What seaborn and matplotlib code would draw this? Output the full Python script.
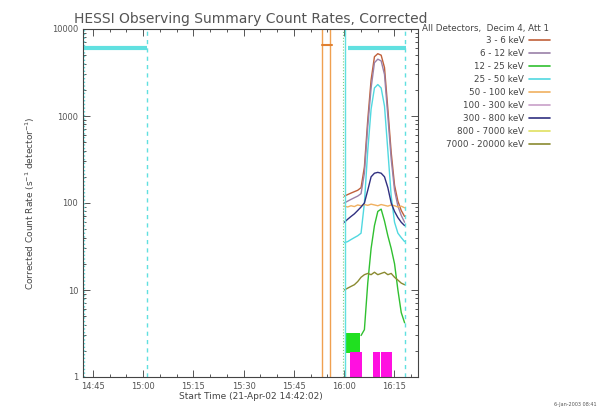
import pandas as pd
import numpy as np
import seaborn as sns
import matplotlib.pyplot as plt
import matplotlib.dates as mdates
from matplotlib.lines import Line2D

# start of the plot window
start = pd.Timestamp("2002-04-21 14:42:02")

# minutes after start for the flare curves
minutes = [78, 79, 80, 81, 82, 83, 84, 85, 86, 87, 88, 89, 90, 91, 92, 93, 94, 95, 96]

bands = ["3 - 6 keV", "6 - 12 keV", "12 - 25 keV", "25 - 50 keV", "50 - 100 keV",
         "100 - 300 keV", "300 - 800 keV", "800 - 7000 keV", "7000 - 20000 keV"]
band_colors = ["#c0603a", "#9a80a8", "#30c030", "#50d8e0", "#f0b060",
               "#c8a0c8", "#303080", "#e0e060", "#8a8a30"]

rate_3_6 = [120, 125, 130, 135, 140, 150, 260, 900, 2600, 4800, 5200, 5000, 3600, 1200, 380, 160, 105, 82, 70]
rate_6_12 = [100, 105, 110, 115, 120, 128, 220, 760, 2100, 4100, 4500, 4300, 3000, 1000, 320, 140, 92, 72, 60]
rate_12_25 = [None, None, None, None, None, 3.0, 3.5, 12, 30, 55, 80, 85, 62, 42, 30, 20, 10, 5.5, 4.2]
rate_25_50 = [35, 36, 38, 40, 42, 45, 100, 400, 1200, 2100, 2300, 2100, 1300, 400, 120, 60, 45, 40, 36]
rate_50_100 = [92, 90, 93, 91, 95, 93, 96, 94, 97, 95, 93, 96, 94, 92, 95, 93, 90, 92, 88]
rate_300_800 = [60, 65, 70, 75, 82, 90, 100, 140, 200, 220, 225, 220, 200, 150, 100, 80, 68, 60, 55]
rate_7000_20000 = [10, 10.5, 11, 11.5, 12.5, 14, 15, 15.5, 15, 16, 15, 15.5, 16, 15, 15.5, 14, 13, 12, 11.5]

# noisy low-count 12-25 keV block at the start of the flare
green_block_t = [78.5, 82.8]
green_block_lo = [1.9, 1.9]
green_block_hi = [3.2, 3.2]

# magenta flag blocks at the bottom (start, end, top)
flag_start = [79.7, 86.6, 89.1]
flag_end = [83.4, 88.8, 92.3]
flag_top = [1.95, 1.95, 1.95]

# cyan bars near top (start, end) and their level
cyan_start = [0.0, 79.0]
cyan_end = [19.0, 96.5]
cyan_level = 6000

rows = []
series = {"3 - 6 keV": rate_3_6, "6 - 12 keV": rate_6_12, "12 - 25 keV": rate_12_25,
          "25 - 50 keV": rate_25_50, "50 - 100 keV": rate_50_100,
          "300 - 800 keV": rate_300_800, "7000 - 20000 keV": rate_7000_20000}
for band, vals in series.items():
    for m, v in zip(minutes, vals):
        if v is not None:
            rows.append({"time": start + pd.Timedelta(minutes=m), "rate": v, "band": band})
df = pd.DataFrame(rows)


def tm(m):
    return start + pd.Timedelta(minutes=m)


sns.set_theme(style="ticks")
plt.rcParams["font.family"] = ["DejaVu Sans"]

fig = plt.figure(figsize=(6.0, 4.16), dpi=100)
ax = fig.add_axes([83 / 600, 1 - 377 / 416, 335 / 600, 348 / 416])

palette = dict(zip(bands, band_colors))
sns.lineplot(data=df, x="time", y="rate", hue="band", palette=palette,
             estimator=None, legend=False, linewidth=1.0, ax=ax)

ax.fill_between([tm(m) for m in green_block_t], green_block_lo, green_block_hi,
                color="#20e020", linewidth=0)
for s, e, top in zip(flag_start, flag_end, flag_top):
    ax.fill_between([tm(s), tm(e)], [1, 1], [top, top], color="#ff10e0", linewidth=0)

for s, e in zip(cyan_start, cyan_end):
    ax.plot([tm(s), tm(e)], [cyan_level, cyan_level], color="#60e0e0", linewidth=3, solid_capstyle="butt")

# observing markers
ax.axvline(tm(0.3), color="#60e0e0", linestyle=":", linewidth=1)
ax.axvline(tm(19.1), color="#60e0e0", linestyle=(0, (3, 3)), linewidth=1)
ax.axvline(tm(78.2), color="#60e0e0", linestyle="-", linewidth=1)
ax.axvline(tm(77.6), color="#80d080", linestyle=":", linewidth=0.8)
ax.axvline(tm(96.1), color="#60e0e0", linestyle=(0, (3, 3)), linewidth=1)
ax.axvline(tm(71.3), color="#f0a050", linewidth=1)
ax.axvline(tm(73.7), color="#f0a050", linewidth=1)
ax.plot([tm(71.3), tm(74.2)], [6600, 6600], color="#e08030", linewidth=1.5)

ax.set_yscale("log")
ax.set_ylim(1, 10000)
ax.set_xlim(tm(0), tm(100))
ax.yaxis.set_major_formatter(plt.FuncFormatter(lambda v, p: f"{v:.0f}"))
ax.xaxis.set_major_locator(mdates.MinuteLocator(byminute=[0, 15, 30, 45]))
ax.xaxis.set_minor_locator(mdates.MinuteLocator(byminute=range(0, 60, 5)))
ax.xaxis.set_major_formatter(mdates.DateFormatter("%H:%M"))
ax.tick_params(which="both", direction="in", top=True, right=True, labelsize=6, colors="#555555",
               width=0.7)
ax.tick_params(which="major", length=5)
ax.tick_params(which="minor", length=2.5)
for sp in ax.spines.values():
    sp.set_color("#444444")
    sp.set_linewidth(0.8)

ax.set_xlabel("Start Time (21-Apr-02 14:42:02)", fontsize=6.5, color="#444444", labelpad=1)
ax.set_ylabel("Corrected Count Rate (s$^{-1}$ detector$^{-1}$)", fontsize=6.5, color="#444444", labelpad=11)
ax.set_title("HESSI Observing Summary Count Rates, Corrected", fontsize=10, color="#555555", pad=4)

handles = [Line2D([0], [0], color=c, linewidth=1.2) for c in band_colors]
leg = fig.legend(handles, bands, loc="upper left", bbox_to_anchor=(419 / 600, 1 - 20 / 416),
                 frameon=False, fontsize=6.3, markerfirst=False, handlelength=2.3,
                 labelspacing=0.45, borderaxespad=0, handletextpad=0.6,
                 title="All Detectors,  Decim 4, Att 1", title_fontsize=6.3)
leg._legend_box.align = "right"
for t in leg.get_texts():
    t.set_color("#444444")
leg.get_title().set_color("#444444")

fig.text(0.995, 0.025, "6-Jan-2003 08:41", fontsize=3.5, color="#555555", ha="right")

fig.savefig("out.png", dpi=100)
